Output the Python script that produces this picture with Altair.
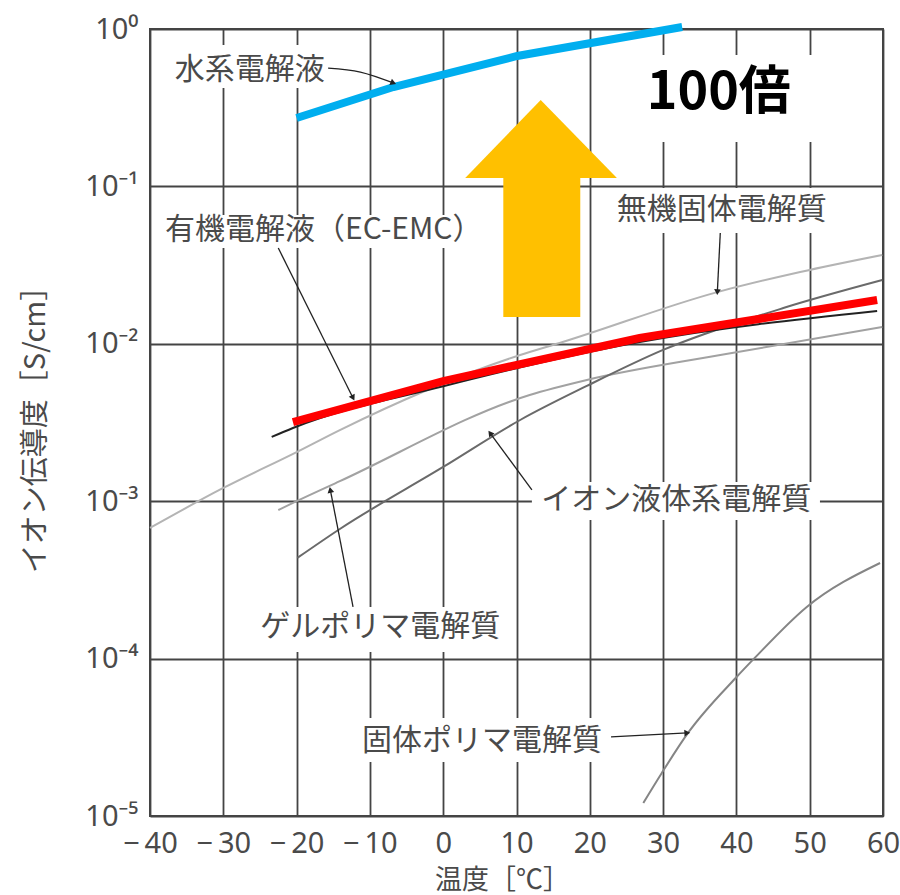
import altair as alt
import pandas as pd

# ---------------- data ----------------
# 水系電解液 (blue, thick)
water_t = [-20.0, -6.8, 10.1, 32.6]
water_s = [0.272, 0.428, 0.674, 1.03]

# 有機電解液(EC-EMC) highlighted (red, thick)
red_t = [-20.5, 0.0, 26.8, 59.2]
red_s = [0.00318, 0.0058, 0.01088, 0.01897]

# 有機電解液 original thin black curve
org_t = [-23.4, -20.5, 0.0, 26.8, 59.2]
org_s = [0.00256, 0.00292, 0.00537, 0.01026, 0.01615]

# 無機固体電解質
inorg_t = [-40.0, -30.2, -20.0, -14.1, 10.5, 16.3, 37.4, 48.7, 59.9]
inorg_s = [0.000676, 0.00120, 0.00205, 0.00283, 0.00849, 0.01026, 0.0213, 0.0286, 0.0367]

# ゲルポリマ電解質
gel_t = [-22.5, -20.0, -14.1, 11.8, 19.6, 37.8, 59.9]
gel_s = [0.000879, 0.00100, 0.00134, 0.00473, 0.00589, 0.00849, 0.01279]

# イオン液体系電解質
ionic_t = [-19.9, -14.1, 0.0, 10.5, 19.6, 30.0, 46.4, 59.9]
ionic_s = [0.000436, 0.000666, 0.00165, 0.00328, 0.00540, 0.00914, 0.01687, 0.0254]

# 固体ポリマ電解質
spe_t = [27.3, 29.8, 33.4, 39.9, 42.5, 49.6, 59.6]
spe_s = [0.0000121, 0.0000187, 0.0000337, 0.0000753, 0.000101, 0.000213, 0.000405]

# labels
label_text = ["水系電解液", "有機電解液（EC-EMC）", "無機固体電解質", "イオン液体系電解質",
              "ゲルポリマ電解質", "固体ポリマ電解質"]
label_t = [-26.4, -16.3, 38.0, 31.8, -8.6, 5.3]
label_s = [0.549, 0.0528, 0.0708, 0.00102, 0.000159, 0.0000300]
# white boxes behind labels (and behind "100倍")
box_t0 = [-37.95, -37.95, 22.75, 12.1, -26.35, -12.45, 25.5]
box_t1 = [-15.4, 5.7, 53.45, 51.4, 9.1, 23.0, 50.7]
box_s0 = [0.4219, 0.0406, 0.0506, 0.000760, 0.000110, 0.0000220, 0.1914]
box_s1 = [0.791, 0.0658, 0.0977, 0.001324, 0.000213, 0.0000420, 0.684]

# leader lines: start -> tip
lead_id = [0, 0, 0, 1, 1, 2, 2, 3, 3, 4, 4, 5, 5]
lead_t = [-15.7, -11.3, -6.8, -22.5, -12.3, 37.8, 37.4, 12.1, 6.4, -12.3, -15.4, 22.9, 33.3]
lead_s = [0.565, 0.533, 0.454, 0.0406, 0.00453, 0.0506, 0.0213, 0.00118, 0.00271,
          0.000213, 0.00118, 0.0000318, 0.0000337]
tip_t = [-6.8, -12.3, 37.4, 6.4, -15.4, 33.3]
tip_s = [0.454, 0.00453, 0.0213, 0.00271, 0.00118, 0.0000337]
tip_angle = [112, 153, 183, 324, 349, 87]

# yellow arrow
shaft_t = [8.2]
shaft_t2 = [18.7]
shaft_s = [0.0148]
shaft_s2 = [0.113]
head_t = [3.0, 13.3, 23.7]
head_s = [0.113, 0.354, 0.113]

x_ticks = [-40, -30, -20, -10, 0, 10, 20, 30, 40, 50, 60]
y_ticks = [1e-5, 1e-4, 1e-3, 1e-2, 1e-1, 1.0]

# ---------------- encodings ----------------
TXT = "#4a4a4a"
GRID = "#444444"
JP = "Noto Sans CJK JP"

xscale = alt.Scale(domain=[-40, 60], nice=False, zero=False)
yscale = alt.Scale(type="log", domain=[1e-5, 1], nice=False)

xaxis = alt.Axis(values=x_ticks, title="温度［℃］", grid=True, ticks=False, domain=False,
                 labelExpr="datum.value < 0 ? '−\u2009' + abs(datum.value) : '' + datum.value",
                 labelFont="Noto Sans", labelFontSize=29, labelColor=TXT, labelPadding=13,
                 labelFlush=False, labelBaseline="top",
                 titleFont=JP, titleFontSize=27, titleColor=TXT, titleFontWeight="normal",
                 titleX=352, titleY=64, titleBaseline="middle", titleAlign="center",
                 gridColor=GRID, gridWidth=1.8, gridOpacity=1)
yaxis = alt.Axis(values=y_ticks, title="イオン伝導度［S/cm］", grid=True, ticks=False, domain=False,
                 labelExpr="'10' + ['⁰','⁻¹','⁻²','⁻³','⁻⁴','⁻⁵'][round(-log(datum.value)/LN10)]",
                 labelFont="Noto Sans", labelFontSize=29, labelColor=TXT, labelPadding=12,
                 labelFlush=False,
                 titleFont=JP, titleFontSize=29, titleColor=TXT, titleFontWeight="normal",
                 titleX=-115, titleY=393, titleAngle=270, titleBaseline="middle", titleAlign="center",
                 gridColor=GRID, gridWidth=1.8, gridOpacity=1)

X = alt.X("t:Q", scale=xscale, axis=xaxis)
Y = alt.Y("s:Q", scale=yscale, axis=yaxis)


def curve(ts, ss, color, width, interp="monotone"):
    df = pd.DataFrame({"t": ts, "s": ss, "o": list(range(len(ts)))})
    return alt.Chart(df).mark_line(color=color, strokeWidth=width, interpolate=interp,
                                   clip=False, strokeCap="butt").encode(x=X, y=Y, order="o:Q")


boxes = alt.Chart(pd.DataFrame({"t": box_t0, "t2": box_t1, "s": box_s0, "s2": box_s1})).mark_rect(
    color="white").encode(x=X, x2="t2:Q", y=Y, y2="s2:Q")

lines = [
    curve(inorg_t, inorg_s, "#b4b4b4", 2),
    curve(gel_t, gel_s, "#a2a2a2", 2),
    curve(ionic_t, ionic_s, "#6a6a6a", 2),
    curve(spe_t, spe_s, "#858585", 2),
    curve(org_t, org_s, "#222222", 2),
    curve(red_t, red_s, "#ff0000", 8, "linear"),
    curve(water_t, water_s, "#00aeef", 8, "linear"),
]

leaders = alt.Chart(pd.DataFrame({"t": lead_t, "s": lead_s, "g": lead_id,
                                  "o": list(range(len(lead_t)))})).mark_line(
    color="#222222", strokeWidth=1.3, interpolate="monotone").encode(
    x=X, y=Y, detail="g:N", order="o:Q")

tips = alt.Chart(pd.DataFrame({"t": tip_t, "s": tip_s, "a": tip_angle})).mark_point(
    shape="triangle-up", filled=True, color="#222222", size=45, opacity=1).encode(
    x=X, y=Y, angle=alt.Angle("a:Q", scale=None))

labels = alt.Chart(pd.DataFrame({"t": label_t, "s": label_s, "txt": label_text})).mark_text(
    font=JP, fontSize=30, color=TXT, align="center", baseline="middle").encode(
    x=X, y=Y, text="txt:N")

shaft = alt.Chart(pd.DataFrame({"t": shaft_t, "t2": shaft_t2, "s": shaft_s, "s2": shaft_s2})).mark_rect(
    color="#ffc000").encode(x=X, x2="t2:Q", y=Y, y2="s2:Q")

head = alt.Chart(pd.DataFrame({"t": head_t, "s": head_s, "s2": [head_s[0]] * 3})).mark_area(
    color="#ffc000", opacity=1, interpolate="linear").encode(x=X, y=Y, y2="s2:Q")

big = alt.Chart(pd.DataFrame({"t": [37.6], "s": [0.39], "txt": ["100倍"]})).mark_text(
    font=JP, fontSize=52, fontWeight="bold", color="black", align="center", baseline="middle").encode(
    x=X, y=Y, text="txt:N")

chart = alt.layer(boxes, *lines, leaders, tips, labels, shaft, head, big).properties(
    width=733, height=787,
    padding={"left": 150, "top": 29, "right": 17, "bottom": 79},
    autosize=alt.AutoSizeParams(type="none"),
    background="white",
).configure_view(stroke=GRID, strokeWidth=2)

chart.save("out.html", embed_options={"renderer": "svg", "actions": False})
